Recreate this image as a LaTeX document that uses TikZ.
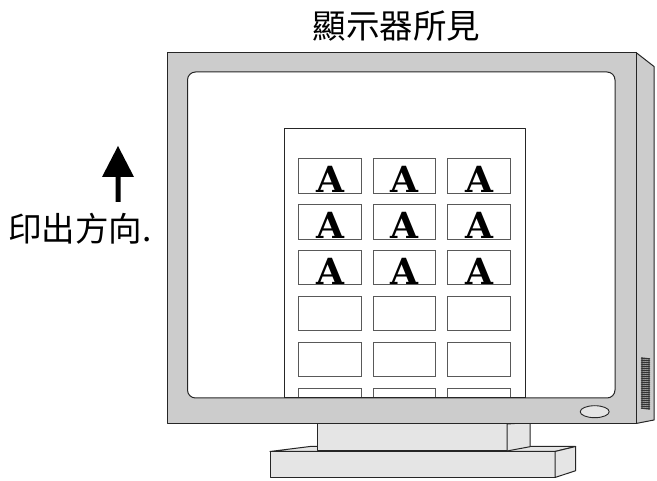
\documentclass[tikz,border=0pt]{standalone}
\usepackage{fontspec}
\newfontfamily\cjk{Noto Sans CJK TC}
\newfontfamily\slab{DejaVu Serif}[BoldFont={DejaVu Serif Bold}]
\definecolor{bezel}{HTML}{CCCCCC}
\definecolor{standfill}{HTML}{E5E5E5}
\tikzset{
  outl/.style={draw=black!85,line width=1pt,line join=round},
  bezelpart/.style={outl,fill=bezel},
  standpart/.style={outl,fill=standfill},
  labelbox/.style={draw=black!65,line width=1pt,fill=white},
  letter/.style={font=\slab\bfseries\fontsize{36}{36}\selectfont,inner sep=0pt,anchor=base},
  captext/.style={font=\cjk\fontsize{33.5}{38}\selectfont,inner sep=0pt},
}
\begin{document}
\begin{tikzpicture}[x=1pt,y=-1pt]
\useasboundingbox (0,0) rectangle (657,481);
% base
\draw[standpart] (270,451.5) -- (310,446.5) -- (575.7,446.5) -- (555,451.5) -- cycle;
\draw[standpart] (270,451.5) rectangle (555,477.5);
\draw[standpart] (555,451.5) -- (575.7,446.5) -- (575.7,470.7) -- (555,477.5) -- cycle;
% neck
\draw[standpart] (317.7,424) rectangle (507,451);
\draw[standpart] (507,424) -- (530,422.5) -- (530,446.7) -- (507,451) -- cycle;
% monitor
\draw[bezelpart] (636,52.5) -- (654,66.5) -- (654,420) -- (636,423.5) -- cycle;
\draw[bezelpart] (167,52.5) rectangle (636,423.5);
\draw[outl,fill=white,rounded corners=8pt] (400,72) -- (615,72) -- (615,398) -- (187.5,398) -- (187.5,72) -- cycle;
% grille
\foreach \yy in {358,360,...,408} \draw[black!80,line width=1.4pt] (641,\yy) -- (650,\yy+1);
\draw[standpart,line width=.9pt] (594.7,411.7) ellipse (14.5 and 6);
% paper
\begin{scope}
\clip (270,100) rectangle (540,398);
\draw[outl,fill=white] (284,129) rectangle (525,420);
\foreach \xa/\xb in {298.5/361,373/435.5,447.5/510}
  \foreach \ya/\yb in {159/193.5,205/239.5,251/285,297/331,343/377,389/423}
    \draw[labelbox] (\xa,\ya) rectangle (\xb,\yb);
\end{scope}
\draw[outl] (284,398) -- (525,398);
% letters
\foreach \cx/\c in {330/a,404/b,479/c}
  \foreach \by/\r in {193/1,239/2,285/3}
    \node[letter] (L\c\r) at (\cx,\by) {A};
% arrow
\fill[black] (118,146) -- (134,177) -- (120.5,177) -- (120.5,202) -- (115.5,202) -- (115.5,177) -- (102,177) -- cycle;
% captions
\node[captext] (title) at (396.5,26.5) {顯示器所見};
\node[captext,anchor=west] (dir) at (8,229) {印出方向.};
\end{tikzpicture}
\end{document}
